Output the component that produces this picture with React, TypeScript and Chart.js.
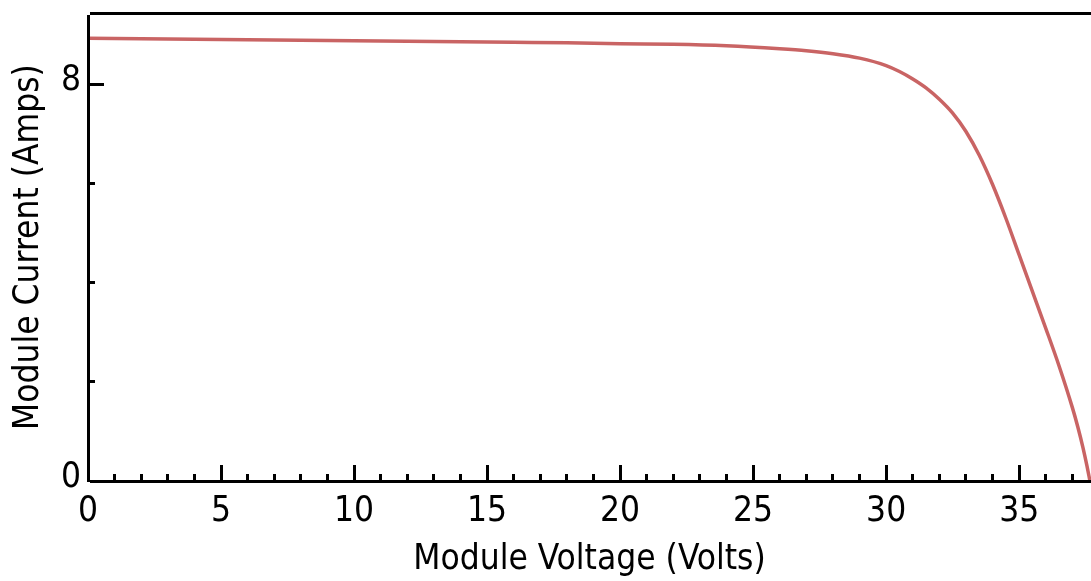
import React, { useEffect, useRef } from "react";
import { Chart, registerables } from "chart.js";

Chart.register(...registerables);

const voltage = [0, 2, 4, 6, 8, 10, 12, 14, 16, 18, 20, 22, 24, 26, 27, 28, 29, 30, 30.5, 31, 31.5, 32, 32.5, 33, 33.5, 34, 34.5, 35, 35.5, 36, 36.5, 37, 37.2, 37.4, 37.55, 37.66];
const current = [8.93, 8.92, 8.91, 8.9, 8.89, 8.88, 8.87, 8.86, 8.85, 8.84, 8.82, 8.81, 8.78, 8.72, 8.68, 8.62, 8.53, 8.38, 8.26, 8.11, 7.93, 7.7, 7.42, 7.05, 6.57, 5.98, 5.3, 4.56, 3.82, 3.08, 2.32, 1.48, 1.1, 0.67, 0.3, 0];

const xTickValues = [0, 5, 10, 15, 20, 25, 30, 35];
const yTickValues = [0, 8];
const xMinorTicks = Array.from({ length: 38 }, (_, i) => i).filter((v) => v % 5 !== 0);
const yMinorTicks = [2, 4, 6];

const X_MAX = 37.7;
const Y_MAX = 9.44;
const FONT_FAMILY = '"DejaVu Sans Condensed", "DejaVu Sans", sans-serif';
const FONT_SIZE = 35;
const LINE_COLOR = "#C96464";

const axesPlugin = {
  id: "axesPlugin",
  afterDraw(chart: any) {
    const { ctx, chartArea, scales } = chart;
    const xs = scales.x;
    const ys = scales.y;
    const left = Math.round(xs.getPixelForValue(0));
    const bottom = Math.round(ys.getPixelForValue(0));
    const top = Math.round(chartArea.top);
    const right = chart.width;
    ctx.save();
    ctx.fillStyle = "#000";
    ctx.fillRect(left - 1, top + 2, 3, bottom - top - 1);
    ctx.fillRect(left + 2, top - 1, right - left, 3);
    ctx.fillRect(left + 2, bottom - 1, right - left, 3);
    xTickValues.forEach((v) => {
      if (v === 0) return;
      const px = xs.getPixelForValue(v);
      ctx.fillRect(Math.round(px - 1.5), bottom - 16, 3, 16);
    });
    xMinorTicks.forEach((v) => {
      const px = xs.getPixelForValue(v);
      ctx.fillRect(Math.round(px - 1.5), bottom - 7, 3, 7);
    });
    yTickValues.forEach((v) => {
      if (v === 0) return;
      const py = ys.getPixelForValue(v);
      ctx.fillRect(left + 2, Math.round(py - 1.5), 14, 3);
    });
    yMinorTicks.forEach((v) => {
      const py = ys.getPixelForValue(v);
      ctx.fillRect(left + 2, Math.round(py - 1.5), 5, 3);
    });
    ctx.restore();
  },
};

export default function App() {
  const canvasRef = useRef<HTMLCanvasElement | null>(null);

  useEffect(() => {
    document.body.style.margin = "0";
    const canvas = canvasRef.current;
    if (!canvas) return;
    const points = voltage.map((v, i) => ({ x: v, y: current[i] }));
    const chart = new Chart(canvas, {
      type: "line",
      data: {
        datasets: [
          {
            data: points,
            borderColor: LINE_COLOR,
            borderWidth: 3.5,
            pointRadius: 0,
            fill: false,
            cubicInterpolationMode: "monotone",
          },
        ],
      },
      options: {
        animation: false,
        responsive: false,
        maintainAspectRatio: false,
        layout: { padding: { top: 13, right: 0, left: 0, bottom: 0 } },
        plugins: { legend: { display: false }, tooltip: { enabled: false } },
        scales: {
          x: {
            type: "linear",
            min: 0,
            max: X_MAX,
            grid: { display: false, drawTicks: false },
            border: { display: false },
            afterBuildTicks: (s: any) => {
              s.ticks = xTickValues.map((v) => ({ value: v }));
            },
            afterFit: (s: any) => {
              s.height = 100;
              s.paddingLeft = 0;
              s.paddingRight = 0;
            },
            ticks: {
              color: "#000",
              padding: 10,
              maxRotation: 0,
              autoSkip: false,
              font: { family: FONT_FAMILY, size: FONT_SIZE },
            },
            title: {
              display: true,
              text: "Module Voltage (Volts)",
              color: "#000",
              padding: { top: 0, bottom: 0 },
              font: { family: FONT_FAMILY, size: FONT_SIZE },
            },
          },
          y: {
            type: "linear",
            min: 0,
            max: Y_MAX,
            grid: { display: false, drawTicks: false },
            border: { display: false },
            afterBuildTicks: (s: any) => {
              s.ticks = yTickValues.map((v) => ({ value: v }));
            },
            afterFit: (s: any) => {
              s.width = 88;
              s.paddingTop = 0;
              s.paddingBottom = 0;
            },
            ticks: {
              color: "#000",
              padding: 7,
              labelOffset: -3,
              autoSkip: false,
              font: { family: FONT_FAMILY, size: FONT_SIZE },
            },
            title: {
              display: true,
              text: "Module Current (Amps)",
              color: "#000",
              padding: { top: 8, bottom: 0 },
              font: { family: FONT_FAMILY, size: FONT_SIZE },
            },
          },
        },
      },
      plugins: [axesPlugin],
    });
    return () => chart.destroy();
  }, []);

  return (
    <div style={{ position: "fixed", left: 0, top: 0, width: 1091, height: 581, background: "#fff" }}>
      <canvas ref={canvasRef} width={1091} height={581} />
    </div>
  );
}
